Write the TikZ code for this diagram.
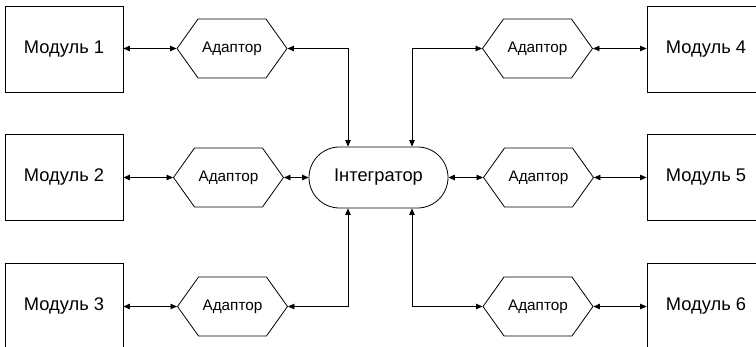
\documentclass[tikz,border=0pt]{standalone}
\usepackage{fontspec}
\setmainfont{Liberation Sans}
\usetikzlibrary{shapes.symbols,shapes.misc,arrows.meta}
\begin{document}
\begin{tikzpicture}[x=1pt,y=-1pt,
  modbox/.style={draw,line width=0.8pt,minimum width=118pt,minimum height=86pt,inner sep=0pt,font=\fontsize{18.3}{22}\selectfont},
  adapt/.style={draw,line width=0.8pt,shape=signal,signal to=east and west,signal pointer angle=109,minimum width=110pt,minimum height=59pt,inner sep=0pt,font=\fontsize{15.3}{18}\selectfont},
  integ/.style={draw,line width=0.8pt,shape=rounded rectangle,minimum width=139pt,minimum height=61pt,inner sep=0pt,font=\fontsize{18.3}{22}\selectfont},
  conn/.style={line width=0.8pt,{Triangle[length=6.5pt,width=5.5pt]}-{Triangle[length=6.5pt,width=5.5pt]}}]
\useasboundingbox (0,0) rectangle (756,347);
\clip (0,0) rectangle (756,347);
\node[modbox] (m1) at (64,49) {Модуль 1};
\node[modbox] (m2) at (64,177) {Модуль 2};
\node[modbox] (m3) at (64,306) {Модуль 3};
\node[modbox] (m4) at (706,49) {Модуль 4};
\node[modbox] (m5) at (706,177) {Модуль 5};
\node[modbox] (m6) at (706,306) {Модуль 6};
\node[adapt] (a1) at (232,48.5) {Адаптор};
\node[adapt] (a2) at (228.5,177.5) {Адаптор};
\node[adapt] (a3) at (232.5,306.5) {Адаптор};
\node[adapt] (a4) at (537.5,48.5) {Адаптор};
\node[adapt] (a5) at (538.5,177.5) {Адаптор};
\node[adapt] (a6) at (538,306.5) {Адаптор};
\node[integ] (i) at (378.5,177.5) {Інтегратор};
\coordinate (il) at (348,177.5);
\coordinate (ir) at (412,177.5);
\draw[conn] (m1.east |- a1.west) -- (a1.west);
\draw[conn] (m2.east |- a2.west) -- (a2.west);
\draw[conn] (m3.east |- a3.west) -- (a3.west);
\draw[conn] (a4.east) -- (m4.west |- a4.east);
\draw[conn] (a5.east) -- (m5.west |- a5.east);
\draw[conn] (a6.east) -- (m6.west |- a6.east);
\draw[conn] (a2.east) -- (i.west);
\draw[conn] (i.east) -- (a5.west);
\draw[conn] (a1.east) -| (il |- i.north);
\draw[conn] (a3.east) -| (il |- i.south);
\draw[conn] (a4.west) -| (ir |- i.north);
\draw[conn] (a6.west) -| (ir |- i.south);
\end{tikzpicture}
\end{document}
